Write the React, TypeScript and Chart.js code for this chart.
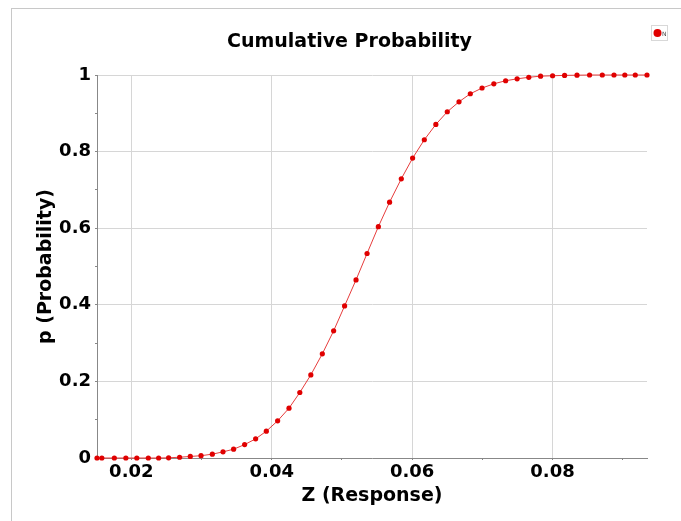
import React, { useEffect, useRef } from 'react';
import { Chart, registerables } from 'chart.js';

Chart.register(...registerables);

const chartTitle = 'Cumulative Probability';
const seriesName = 'N';
const xAxisTitle = 'Z (Response)';
const yAxisTitle = 'p (Probability)';

const zValues = [
  0.01511, 0.0158, 0.01758, 0.01922, 0.02078, 0.02242, 0.02389, 0.02531, 0.02688, 0.0284,
  0.02993, 0.03154, 0.03306, 0.03457, 0.03614, 0.03771, 0.03923, 0.04084, 0.04246, 0.044,
  0.04557, 0.04721, 0.04882, 0.05038, 0.05201, 0.05358, 0.05519, 0.05679, 0.05846, 0.06007,
  0.06174, 0.06338, 0.06501, 0.06668, 0.06829, 0.06996, 0.07164, 0.07332, 0.07496, 0.07662,
  0.0783, 0.08001, 0.08172, 0.08349, 0.08528, 0.08709, 0.08876, 0.0903, 0.09179, 0.09346,
];

const pValues = [
  0, 0, 0, 0, 0, 0, 0, 0.0005, 0.002, 0.004,
  0.006, 0.01, 0.016, 0.023, 0.035, 0.05, 0.07, 0.097, 0.13, 0.171,
  0.217, 0.272, 0.332, 0.397, 0.465, 0.534, 0.604, 0.668, 0.729, 0.783,
  0.831, 0.871, 0.904, 0.93, 0.951, 0.966, 0.977, 0.985, 0.99, 0.994,
  0.997, 0.998, 0.999, 0.9995, 1, 1, 1, 1, 1, 1,
];

const xMin = 0.01511;
const xMax = 0.09346;
const xStep = 0.01;
const yStep = 0.1;

const FONT = "'DejaVu Sans', Verdana, sans-serif";
const RED = '#e00000';

export default function App() {
  const ref = useRef<HTMLCanvasElement | null>(null);

  useEffect(() => {
    if (!ref.current) return;
    const data = zValues.map((x, i) => ({ x, y: pValues[i] }));

    const overlay = {
      id: 'overlay',
      afterDraw(chart: any) {
        const ctx = chart.ctx;
        ctx.save();
        // title
        ctx.font = `bold 19px ${FONT}`;
        ctx.fillStyle = '#000';
        ctx.textAlign = 'center';
        ctx.textBaseline = 'alphabetic';
        ctx.fillText(chartTitle, 349.5, 47);
        // legend
        ctx.strokeStyle = '#d8d8d8';
        ctx.lineWidth = 1;
        ctx.strokeRect(651.5, 25.5, 16, 15);
        ctx.fillStyle = chart.data.datasets[0].pointBackgroundColor;
        ctx.beginPath();
        ctx.arc(657.5, 33, 4, 0, Math.PI * 2);
        ctx.fill();
        ctx.font = `6px ${FONT}`;
        ctx.fillStyle = '#444';
        ctx.textAlign = 'left';
        ctx.textBaseline = 'middle';
        ctx.fillText(chart.data.datasets[0].label, 662, 34);
        ctx.restore();
      },
    };

    const isEven = (v: number, step: number) => Math.round(v / step) % 2 === 0;

    const chart = new Chart(ref.current, {
      type: 'line',
      data: {
        datasets: [
          {
            label: seriesName,
            data,
            borderColor: 'rgb(230,60,60)',
            borderWidth: 1,
            pointRadius: 2.6,
            pointBackgroundColor: RED,
            pointBorderWidth: 0,
            pointHoverRadius: 2.6,
            tension: 0,
            clip: false as any,
          },
        ],
      },
      options: {
        animation: false,
        responsive: false,
        devicePixelRatio: 1,
        layout: { padding: { top: 75, right: 34, left: 0, bottom: 0 } },
        plugins: {
          legend: { display: false },
          title: { display: false },
          tooltip: { enabled: false },
        },
        scales: {
          x: {
            type: 'linear',
            min: xMin,
            max: xMax,
            afterFit: (s: any) => {
              s.height = 63;
            },
            ticks: {
              stepSize: xStep,
              includeBounds: false,
              autoSkip: false,
              maxRotation: 0,
              padding: 2,
              color: '#000',
              font: { family: FONT, size: 18, weight: 'bold' },
              callback: (v: any) => (isEven(Number(v), xStep) ? Number(v).toFixed(2) : ''),
            },
            grid: {
              color: (c: any) => (c.tick && isEven(c.tick.value, xStep) ? '#d6d6d6' : 'rgba(0,0,0,0)'),
              tickColor: '#888',
              tickLength: 2,
            },
            border: { display: true, color: '#888', width: 1 },
            title: {
              display: true,
              text: xAxisTitle,
              color: '#000',
              font: { family: FONT, size: 19, weight: 'bold' },
              padding: { top: 0, bottom: 13.5 },
            },
          },
          y: {
            type: 'linear',
            min: 0,
            max: 1,
            afterFit: (s: any) => {
              s.width = 97;
            },
            ticks: {
              stepSize: yStep,
              autoSkip: false,
              padding: 4,
              color: '#000',
              font: { family: FONT, size: 18, weight: 'bold' },
              callback: (v: any) => (isEven(Number(v), yStep) ? String(Number(Number(v).toFixed(1))) : ''),
            },
            grid: {
              color: (c: any) => (c.tick && isEven(c.tick.value, yStep) ? '#d6d6d6' : 'rgba(0,0,0,0)'),
              tickColor: '#888',
              tickLength: 2,
            },
            border: { display: true, color: '#888', width: 1 },
            title: {
              display: true,
              text: yAxisTitle,
              color: '#000',
              font: { family: FONT, size: 19, weight: 'bold' },
              padding: { top: 34.5, bottom: 0 },
            },
          },
        },
      },
      plugins: [overlay],
    } as any);

    return () => chart.destroy();
  }, []);

  return (
    <div style={{ position: 'fixed', left: 0, top: 0, width: 681, height: 521, background: '#fff' }}>
      <div
        style={{
          position: 'absolute',
          left: 11,
          top: 8,
          right: 0,
          bottom: 0,
          borderTop: '1px solid #c8c8c8',
          borderLeft: '1px solid #c8c8c8',
        }}
      />
      <canvas
        ref={ref}
        width={681}
        height={521}
        style={{ position: 'absolute', left: 0, top: 0, width: 681, height: 521 }}
      />
    </div>
  );
}
